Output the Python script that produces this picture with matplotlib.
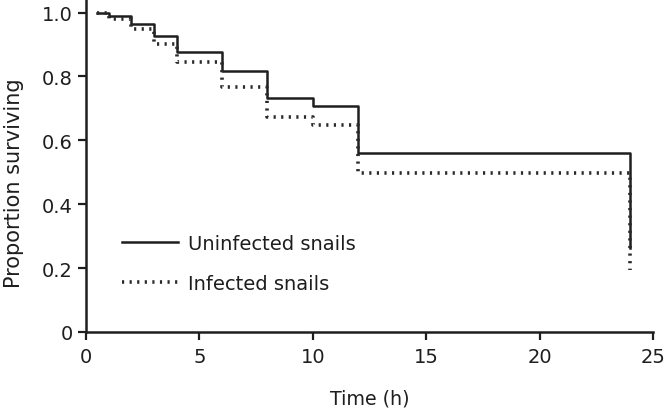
import numpy as np
import matplotlib
matplotlib.use("Agg")
import matplotlib.pyplot as plt

# Kaplan-Meier style survival steps
times = [0.5, 1, 2, 3, 4, 6, 8, 10, 12, 24]
uninfected = [1.0, 0.988, 0.965, 0.926, 0.877, 0.818, 0.731, 0.707, 0.561, 0.263]
infected = [1.0, 0.980, 0.949, 0.902, 0.846, 0.767, 0.672, 0.647, 0.499, 0.195]
labels = ["Uninfected snails", "Infected snails"]
xticks = [0, 5, 10, 15, 20, 25]
yticks = [0, 0.2, 0.4, 0.6, 0.8, 1.0]
yticklabels = ["0", "0.2", "0.4", "0.6", "0.8", "1.0"]

ink = "#1e1e1e"
plt.rcParams["font.family"] = "DejaVu Sans"

fig = plt.figure(figsize=(6.64, 4.14), dpi=100)
ax = fig.add_axes([86 / 664, 1 - 333 / 414, (653 - 86) / 664, 1.04 * 319.5 / 414])

ax.step(times, uninfected, where="post", color=ink, lw=1.8, label=labels[0], zorder=2)
ax.step(times, infected, where="post", color="#2a2a2a", lw=2.6,
        linestyle=(0, (0.6, 1.5)), label=labels[1], zorder=3)

ax.set_xlim(0, 25)
ax.set_ylim(0, 1.04)
ax.set_xticks(xticks)
ax.set_yticks(yticks)
ax.set_yticklabels(yticklabels)
for s in ("top", "right"):
    ax.spines[s].set_visible(False)
for s in ("left", "bottom"):
    ax.spines[s].set_linewidth(1.8)
    ax.spines[s].set_color(ink)
ax.tick_params(axis="both", direction="out", length=5.8, width=1.6, color=ink,
               labelsize=14, labelcolor=ink)
ax.tick_params(axis="x", pad=5)
ax.tick_params(axis="y", pad=3.5)

ax.set_xlabel("Time (h)", fontsize=13.7, color=ink, labelpad=16)
fig.text(14 / 664, 1 - 183.5 / 414, "Proportion surviving", rotation=90,
         ha="center", va="center", fontsize=15, color=ink)

ax.legend(loc="center left", bbox_to_anchor=(122 / 664, 1 - 264.5 / 414),
          bbox_transform=fig.transFigure, frameon=False, fontsize=14,
          handlelength=2.9, handletextpad=0.5, labelspacing=1.05,
          borderpad=0, borderaxespad=0, labelcolor=ink)

fig.savefig("out.png", dpi=100)
